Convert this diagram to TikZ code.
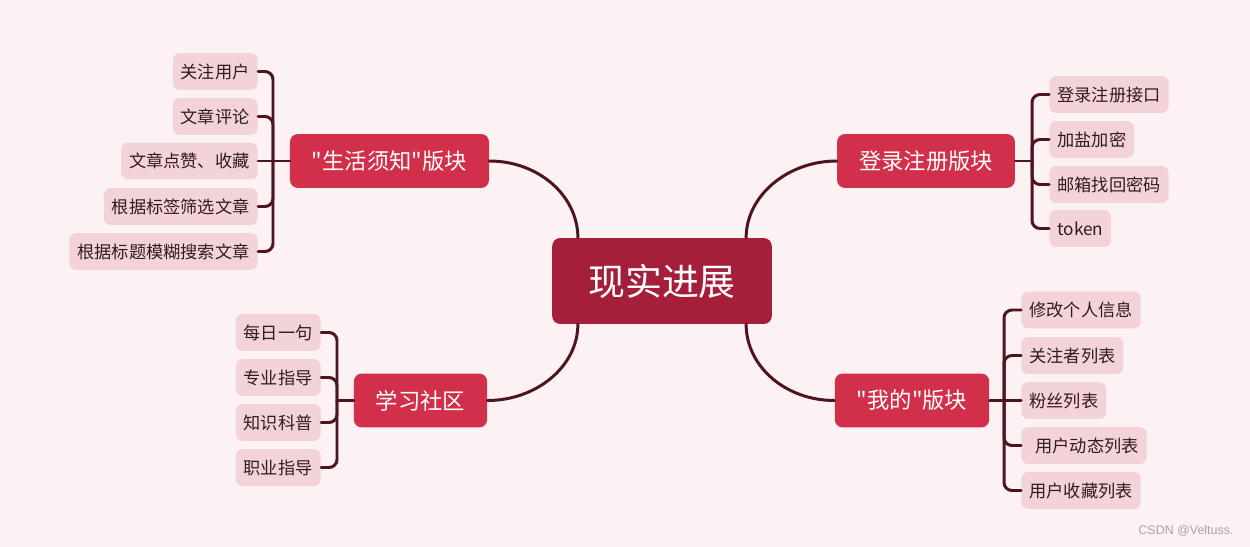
\documentclass[tikz,border=0pt]{standalone}
\usepackage{fontspec}
\setmainfont{Noto Sans CJK SC}[Ligatures=TeXOff]
\newfontfamily\wmfont{Liberation Sans}

\definecolor{bgpink}{HTML}{FCF1F3}
\definecolor{rootred}{HTML}{A51E3A}
\definecolor{topicred}{HTML}{D12F4A}
\definecolor{leafpink}{HTML}{F4D3D8}
\definecolor{linered}{HTML}{4E1420}
\definecolor{leaftext}{HTML}{2E1B20}

\begin{document}
\begin{tikzpicture}[x=0.02cm,y=-0.02cm,
  root/.style={fill=rootred,text=white,rounded corners=0.16cm,minimum height=1.72cm,
    inner xsep=0.72cm,font=\fontsize{21}{24}\selectfont},
  topic/.style={fill=topicred,text=white,rounded corners=0.16cm,minimum height=1.08cm,
    inner xsep=0.44cm,font=\fontsize{12.7}{15}\selectfont},
  leaf/.style={fill=leafpink,text=leaftext,rounded corners=0.14cm,minimum height=0.74cm,
    inner xsep=0.16cm,font=\fontsize{9.8}{12}\selectfont},
  branch/.style={draw=linered,line width=1.7pt,line cap=round},
  wmark/.style={text=gray!70,font=\wmfont\fontsize{7.1}{8}\selectfont}]
% mind map: one root, four topics, leaves hanging on a spine

% background
\fill[bgpink] (0,0) rectangle (1250,547);
\useasboundingbox (0,0) rectangle (1250,547);

% root
\node[root] (real) at (662,281) {现实进展};

% topics
\node[topic] (life) at (389.5,161) {"生活须知"版块};
\node[topic] (login) at (926,161) {登录注册版块};
\node[topic] (study) at (420.5,400.5) {学习社区};
\node[topic] (mine) at (912,400.5) {"我的"版块};

% leaves of life
\node[leaf,anchor=east] (life1) at (258,71.5) {关注用户};
\node[leaf,anchor=east] (life2) at (258,116.5) {文章评论};
\node[leaf,anchor=east] (life3) at (258,161) {文章点赞、收藏};
\node[leaf,anchor=east] (life4) at (258,206.5) {根据标签筛选文章};
\node[leaf,anchor=east] (life5) at (258,251.5) {根据标题模糊搜索文章};

% leaves of login
\node[leaf,anchor=west] (login1) at (1049,94.5) {登录注册接口};
\node[leaf,anchor=west] (login2) at (1049,139.5) {加盐加密};
\node[leaf,anchor=west] (login3) at (1049,184.5) {邮箱找回密码};
\node[leaf,anchor=west] (login4) at (1049,228.5) {token};

% leaves of study
\node[leaf,anchor=east] (study1) at (321,332.5) {每日一句};
\node[leaf,anchor=east] (study2) at (321,377.5) {专业指导};
\node[leaf,anchor=east] (study3) at (321,422.5) {知识科普};
\node[leaf,anchor=east] (study4) at (321,467.5) {职业指导};

% leaves of mine
\node[leaf,anchor=west] (mine1) at (1021,310) {修改个人信息};
\node[leaf,anchor=west] (mine2) at (1021,355.5) {关注者列表};
\node[leaf,anchor=west] (mine3) at (1021,400.5) {粉丝列表};
\node[leaf,anchor=west] (mine4) at (1021,445.5) {\hspace*{0.12cm}用户动态列表};
\node[leaf,anchor=west] (mine5) at (1021,490.5) {用户收藏列表};

% spine joints
\coordinate (lifej) at (273,161);
\coordinate (loginj) at (1032,161);
\coordinate (studyj) at (337,400.5);
\coordinate (minej) at (1004,400.5);

% root to topics
\draw[branch] ([xshift=0.52cm]real.north west) .. controls +(0,-42) and +(49,0) .. (life.east);
\draw[branch] ([xshift=-0.52cm]real.north east) .. controls +(0,-42) and +(-49,0) .. (login.west);
\draw[branch] ([xshift=0.52cm]real.south west) .. controls +(0,42) and +(49,0) .. (study.east);
\draw[branch] ([xshift=-0.52cm]real.south east) .. controls +(0,42) and +(-49,0) .. (mine.west);

% topics to spines
\draw[branch] (life.west) -- (lifej);
\draw[branch] (login.east) -- (loginj);
\draw[branch] (study.west) -- (studyj);
\draw[branch] (mine.east) -- (minej);

% spines to leaves
\foreach \n in {1,2,4,5}
  \draw[branch,rounded corners=0.16cm] (life\n.east) -| (lifej);
\draw[branch] (life3.east) -- (lifej);
\foreach \n in {1,...,4}
  \draw[branch,rounded corners=0.16cm] (login\n.west) -| (loginj);
\foreach \n in {1,...,4}
  \draw[branch,rounded corners=0.16cm] (study\n.east) -| (studyj);
\foreach \n in {1,2,4,5}
  \draw[branch,rounded corners=0.16cm] (mine\n.west) -| (minej);
\draw[branch] (mine3.west) -- (minej);

% watermark
\node[wmark] (csdn) at (1186,531) {CSDN @Veltuss.};

\end{tikzpicture}
\end{document}
